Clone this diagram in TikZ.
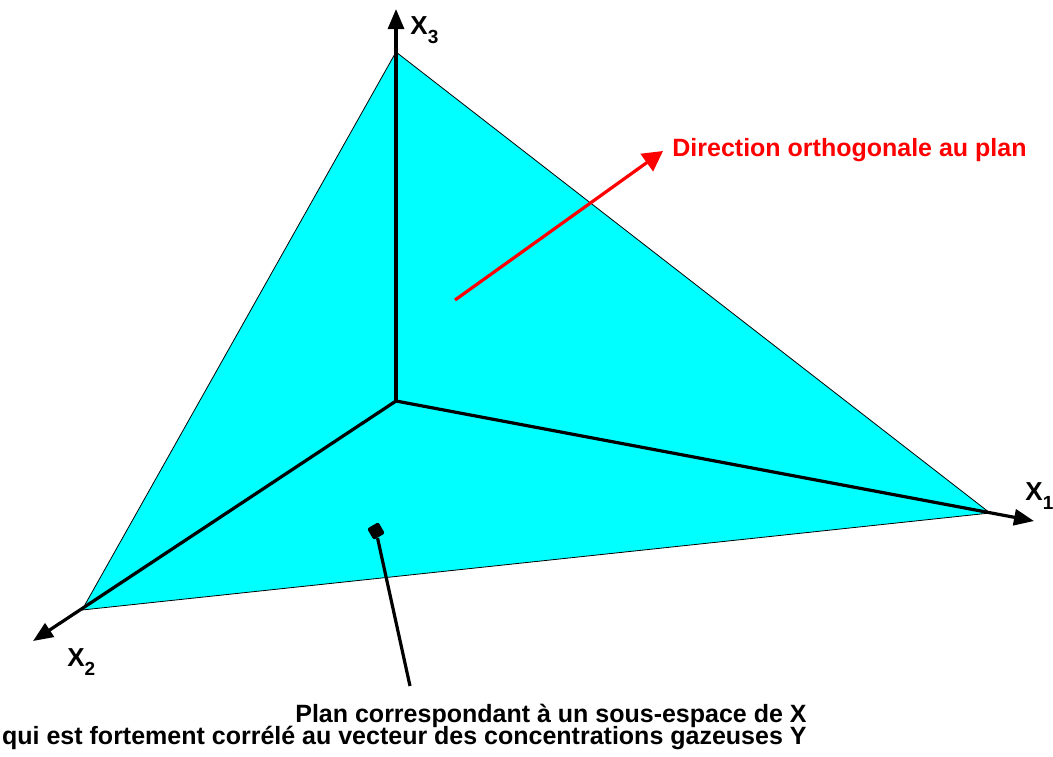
\documentclass[tikz,border=0pt]{standalone}
\usepackage{fontspec}
\setmainfont{Liberation Sans}
\usetikzlibrary{arrows.meta}
\definecolor{planfill}{RGB}{0,255,255}
\newcommand{\axsub}[1]{\raisebox{-4.5pt}{\fontsize{9.5}{10}\selectfont #1}}
\tikzset{
  axe/.style={line width=1.6pt,-{Triangle[length=10pt,width=8pt]}},
  axelabel/.style={font=\bfseries\fontsize{13}{15}\selectfont,inner sep=0pt},
  legend/.style={font=\bfseries\fontsize{12.5}{15}\selectfont,inner sep=0pt}
}

\begin{document}
\begin{tikzpicture}[x=0.5pt,y=-0.5pt]
\useasboundingbox (0,0) rectangle (1053,756);
\coordinate (O) at (396,401);
\coordinate (v1) at (990,513);
\coordinate (v2) at (82,610);
\coordinate (v3) at (396,52);
\coordinate (t1) at (1034,521);
\coordinate (t2) at (33,641);
\coordinate (t3) at (396,9);
\fill[planfill] (v1) -- (v2) -- (v3) -- cycle;
\draw[line width=0.4pt] (v1) -- (v2) -- (v3) -- cycle;
\draw[axe] (O) -- (t1);
\draw[axe] (O) -- (t2);
\draw[axe] (O) -- (t3);
\node[axelabel,anchor=base west] (lx3) at (410,34) {X\axsub{3}};
\node[axelabel,anchor=base west] (lx1) at (1025,500) {X\axsub{1}};
\node[axelabel,anchor=base west] (lx2) at (67,666) {X\axsub{2}};
\coordinate (n0) at (455,300);
\coordinate (n1) at (663,151);
\draw[red,line width=1.6pt,-{Triangle[length=10pt,width=10.5pt]}] (n0) -- (n1);
\node[legend,red,anchor=base west] (dir) at (672,156) {Direction orthogonale au plan};
\node[fill=black,rounded corners=1pt,minimum size=6.5pt,inner sep=0pt,rotate=30] (mk) at (376,531) {};
\coordinate (pe) at (410,686);
\draw[line width=1.6pt] (mk) -- (pe);
\node[legend,anchor=base east] (plan1) at (807,722) {Plan correspondant à un sous-espace de X};
\node[legend,anchor=base east] (plan2) at (807,744) {qui est fortement corrélé au vecteur des concentrations gazeuses Y};
\end{tikzpicture}
\end{document}
